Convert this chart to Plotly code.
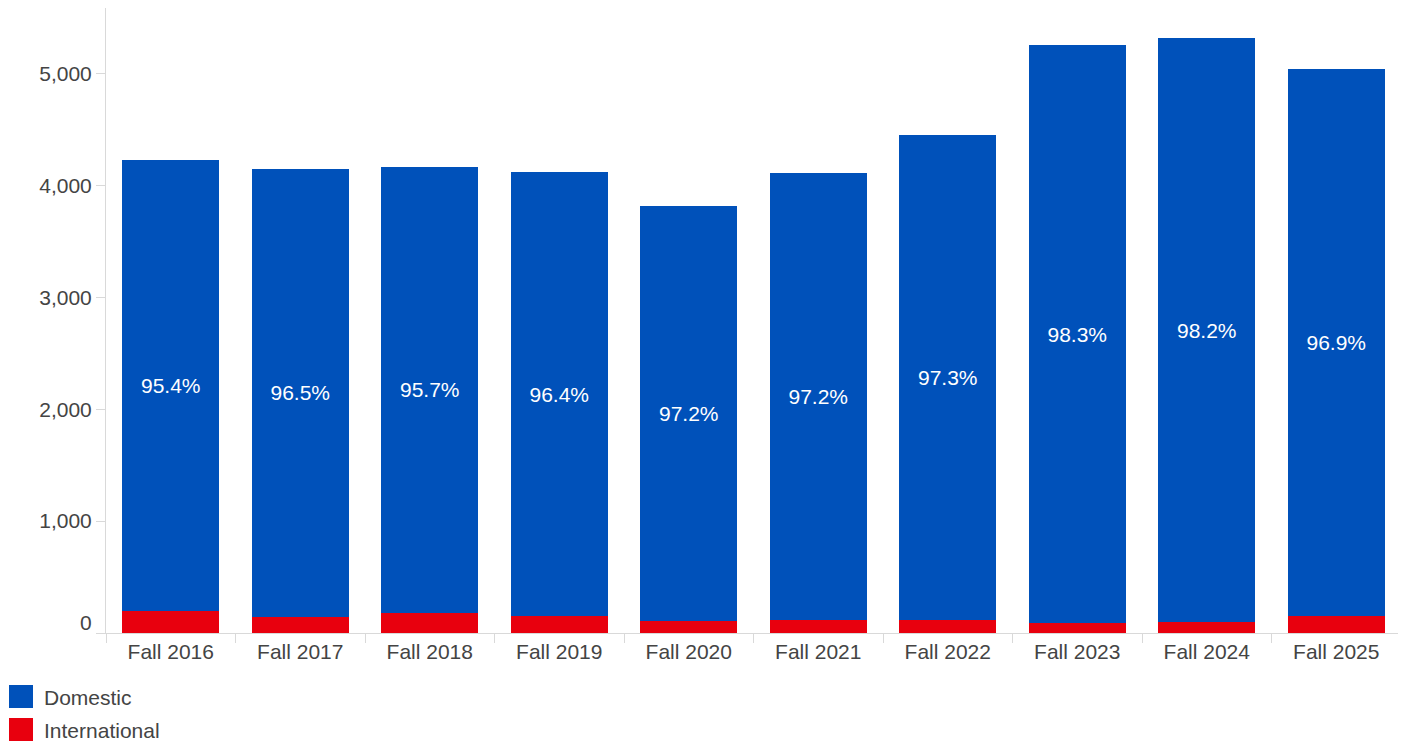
import plotly.graph_objects as go

terms = ["Fall 2016", "Fall 2017", "Fall 2018", "Fall 2019", "Fall 2020",
         "Fall 2021", "Fall 2022", "Fall 2023", "Fall 2024", "Fall 2025"]
domestic = [4034, 4003, 3987, 3973, 3711, 3997, 4331, 5165, 5221, 4884]
international = [194, 145, 179, 148, 107, 115, 120, 89, 96, 156]
y_ticks = [0, 1000, 2000, 3000, 4000, 5000]

BLUE = "#0051BA"
RED = "#E8000E"
GRID = "#d9d9d9"
TXT = "#444444"
FONT = "Liberation Sans, Arial, sans-serif"

pct_labels = [f"{d / (d + i) * 100:.1f}%" for d, i in zip(domestic, international)]

fig = go.Figure()
fig.add_trace(go.Bar(
    x=terms, y=international, name="International",
    marker=dict(color=RED, line=dict(width=0)),
    showlegend=False, hoverinfo="x+y+name",
))
fig.add_trace(go.Bar(
    x=terms, y=domestic, name="Domestic",
    marker=dict(color=BLUE, line=dict(width=0)),
    text=pct_labels, textposition="inside", insidetextanchor="middle",
    textfont=dict(color="white", size=21, family=FONT),
    textangle=0, constraintext="none",
    showlegend=False, hoverinfo="x+y+name",
))

# hand-drawn legend below the plot (big square swatches)
legend_items = [("Domestic", BLUE, -75, -52, -64), ("International", RED, -108, -85, -97)]
for label, color, y0, y1, ys in legend_items:
    fig.add_shape(type="rect", xref="paper", yref="paper",
                  xsizemode="pixel", ysizemode="pixel", xanchor=0, yanchor=0,
                  x0=-97, x1=-73, y0=y0, y1=y1,
                  fillcolor=color, line=dict(width=0))
    fig.add_annotation(x=0, y=0, xref="paper", yref="paper", text=label,
                       showarrow=False, xanchor="left", yanchor="middle",
                       xshift=-64, yshift=ys,
                       font=dict(size=21, color=TXT, family=FONT))

# zero label sits a bit above the axis line
fig.add_annotation(x=0, y=0, xref="paper", yref="y", text="0", showarrow=False,
                   xanchor="right", yanchor="middle", xshift=-12, yshift=11,
                   font=dict(size=21, color=TXT, family=FONT))

# page body has an 8px margin, so the figure is sized to fit the window
fig.update_layout(
    barmode="stack",
    bargap=0.25,
    width=1398, height=734,
    margin=dict(l=98, r=5, t=0, b=109),
    plot_bgcolor="white", paper_bgcolor="white",
    font=dict(family=FONT, size=21, color=TXT),
    xaxis=dict(
        showgrid=False, zeroline=False,
        showline=True, linecolor=GRID, linewidth=1, mirror=True,
        ticks="outside", tickson="boundaries", ticklen=9, tickcolor=GRID,
        tickfont=dict(size=21, color=TXT),
    ),
    yaxis=dict(
        range=[0, 5585], showgrid=False, zeroline=False,
        showline=True, linecolor=GRID, linewidth=1, mirror=True,
        ticks="outside", ticklen=9, tickcolor=GRID,
        tickvals=y_ticks,
        ticktext=[""] + [f"{v:,}" for v in y_ticks[1:]],
        tickfont=dict(size=21, color=TXT),
    ),
)

fig.write_html("out.html")
